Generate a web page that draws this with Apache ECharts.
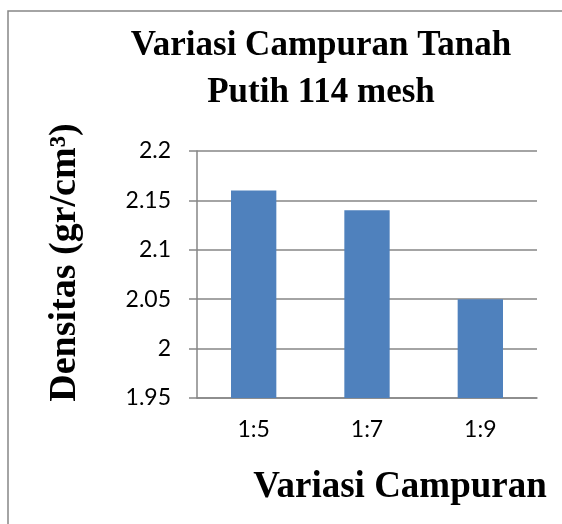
<!DOCTYPE html>
<html>
<head>
<meta charset="utf-8">
<script src="https://cdn.jsdelivr.net/npm/echarts@6/dist/echarts.min.js"></script>
<style>
html, body { margin: 0; padding: 0; background: #fff; }
#main { width: 562px; height: 524px; }
</style>
</head>
<body>
<div id="main"></div>
<script>
// data
var categories = ['1:5', '1:7', '1:9'];
var densitas   = [2.16, 2.14, 2.05];
var yMin = 1.95, yMax = 2.2, yStep = 0.05;

var chart = echarts.init(document.getElementById('main'));

var serif = '"Liberation Serif", "Times New Roman", serif';
var sans  = 'Lato, "Liberation Sans", sans-serif';
var grey  = '#868686';

option = {
    animation: false,
    backgroundColor: '#fff',
    graphic: [{
        type: 'rect',
        shape: { x: 8, y: 11, width: 700, height: 700 },
        style: { fill: 'none', stroke: grey, lineWidth: 1.5 }
    }],
    title: {
        text: 'Variasi Campuran Tanah\nPutih 114 mesh',
        left: 316,
        top: 17,
        textAlign: 'center',
        textStyle: {
            fontFamily: serif,
            fontWeight: 'bold',
            fontSize: 35,
            lineHeight: 47,
            color: '#000'
        }
    },
    grid: {
        left: 197,
        right: 25,
        top: 151,
        bottom: 126
    },
    xAxis: {
        type: 'category',
        data: categories,
        name: 'Variasi Campuran',
        nameLocation: 'middle',
        nameGap: 71,
        nameTextStyle: {
            fontFamily: serif,
            fontWeight: 'bold',
            fontSize: 37,
            color: '#000',
            padding: [0, 0, 0, 66]
        },
        axisLine: { lineStyle: { color: grey, width: 1.5 } },
        axisTick: { length: 8, lineStyle: { color: grey, width: 1.5 } },
        axisLabel: {
            margin: 20,
            fontFamily: sans,
            fontSize: 23,
            color: '#000'
        }
    },
    yAxis: {
        type: 'value',
        min: yMin,
        max: yMax,
        interval: yStep,
        name: 'Densitas (gr/cm³)',
        nameLocation: 'middle',
        nameGap: 113,
        nameTextStyle: {
            fontFamily: serif,
            fontWeight: 'bold',
            fontSize: 38,
            color: '#000',
            padding: [0, 0, 0, 24]
        },
        axisLine: { show: true, lineStyle: { color: grey, width: 1.5 } },
        axisTick: { show: true, length: 8, lineStyle: { color: grey, width: 1.5 } },
        splitLine: { lineStyle: { color: grey, width: 1.5 } },
        axisLabel: {
            margin: 26,
            fontFamily: sans,
            fontSize: 23,
            color: '#000',
            formatter: function (v) { return String(+v.toFixed(2)); }
        }
    },
    series: [{
        type: 'bar',
        data: densitas,
        barWidth: '40%',
        itemStyle: { color: '#4F81BD' }
    }]
};

chart.setOption(option);
</script>
</body>
</html>
